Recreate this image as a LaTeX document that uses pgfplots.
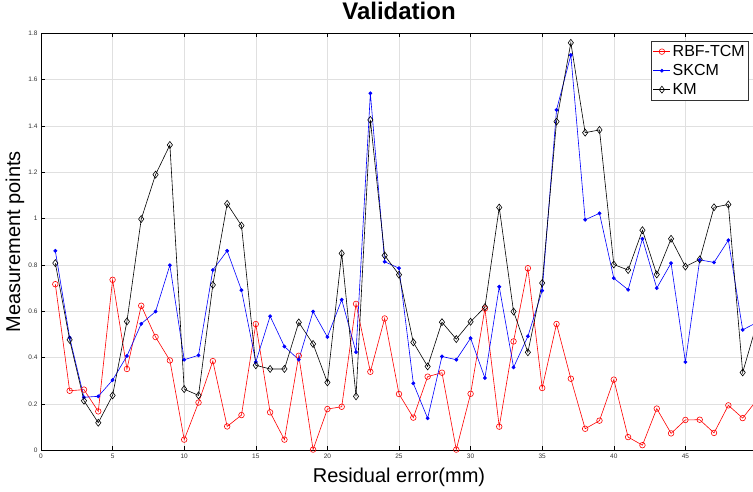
\documentclass[border=0pt]{standalone}
\usepackage{pgfplots}
\pgfplotsset{compat=1.18}
\usepackage{pgfplotstable}
\usepackage{fontspec}
\setmainfont{Liberation Sans}

\pgfplotstableread{
x rbf skcm km
1 0.717 0.861 0.808
2 0.257 0.487 0.477
3 0.262 0.229 0.214
4 0.168 0.233 0.119
5 0.736 0.303 0.237
6 0.351 0.407 0.556
7 0.624 0.546 0.998
8 0.489 0.599 1.190
9 0.388 0.799 1.318
10 0.046 0.391 0.264
11 0.206 0.410 0.237
12 0.385 0.778 0.714
13 0.103 0.861 1.064
14 0.152 0.691 0.970
15 0.545 0.381 0.367
16 0.164 0.579 0.351
17 0.046 0.448 0.351
18 0.408 0.391 0.552
19 0.003 0.599 0.459
20 0.178 0.489 0.293
21 0.188 0.650 0.850
22 0.632 0.424 0.233
23 0.339 1.541 1.426
24 0.569 0.814 0.841
25 0.243 0.786 0.758
26 0.141 0.289 0.466
27 0.318 0.138 0.362
28 0.335 0.405 0.553
29 0.003 0.391 0.480
30 0.244 0.484 0.555
31 0.612 0.312 0.618
32 0.102 0.706 1.048
33 0.470 0.358 0.599
34 0.786 0.492 0.423
35 0.269 0.689 0.722
36 0.545 1.469 1.419
37 0.309 1.706 1.759
38 0.093 0.995 1.371
39 0.128 1.023 1.383
40 0.305 0.743 0.802
41 0.057 0.693 0.778
42 0.022 0.913 0.950
43 0.180 0.700 0.759
44 0.073 0.808 0.913
45 0.131 0.381 0.793
46 0.132 0.822 0.824
47 0.075 0.811 1.049
48 0.194 0.907 1.061
49 0.139 0.520 0.336
50 0.218 0.552 0.550
}\datatable

\begin{document}
\begin{tikzpicture}
\useasboundingbox (-41pt,-41.7pt) rectangle (712pt,450.3pt);
\begin{axis}[
  at={(0,0)}, anchor=south west,
  width=716pt, height=417pt, scale only axis,
  xmin=0, xmax=50, ymin=0, ymax=1.8,
  xtick={0,5,10,15,20,25,30,35,40,45,50},
  ytick={0,0.2,0.4,0.6,0.8,1,1.2,1.4,1.6,1.8},
  tick align=inside, major tick length=4pt,
  grid=major, grid style={line width=0.6pt, color=black!12},
  axis line style={line width=0.7pt, black},
  tick style={line width=0.6pt, black},
  ticklabel style={font=\fontsize{6.5}{7}\selectfont, color=black!80},
  /pgf/number format/assume math mode=true,
  title={Validation},
  title style={at={(0.5,1)}, anchor=base, yshift=7.5pt, font=\bfseries\fontsize{24}{28}\selectfont},
  xlabel={Residual error(mm)},
  xlabel style={at={(axis description cs:0.5,0)}, anchor=north, inner sep=0pt, yshift=-18pt, font=\fontsize{20}{24}\selectfont},
  ylabel={Measurement points},
  ylabel style={at={(axis description cs:-0.023,0.5)}, anchor=south, inner sep=0pt, font=\fontsize{20}{24}\selectfont},
  legend style={at={(rel axis cs:1,1)}, anchor=north east, xshift=-8pt, yshift=-7.7pt,
    font=\fontsize{16}{19}\selectfont, draw=black!80, line width=0.6pt, inner sep=2pt, row sep=2.4pt,
    cells={anchor=west}},
  legend image code/.code={\draw[mark repeat=2,mark phase=2] plot coordinates {(0pt,0pt) (8.5pt,0pt) (17pt,0pt)};},
  clip=true,
]
\addplot[red, line width=0.6pt, mark=o, mark size=2.8pt, mark options={solid, line width=0.6pt}] table[x=x, y=rbf] {\datatable};
\addlegendentry{RBF-TCM}
\addplot[blue, line width=0.6pt, mark=*, mark size=1.6pt] table[x=x, y=skcm] {\datatable};
\addlegendentry{SKCM}
\addplot[black, line width=0.6pt, mark=diamond, mark size=3.5pt, mark options={solid, line width=0.6pt}] table[x=x, y=km] {\datatable};
\addlegendentry{KM}
\end{axis}
\end{tikzpicture}
\end{document}
